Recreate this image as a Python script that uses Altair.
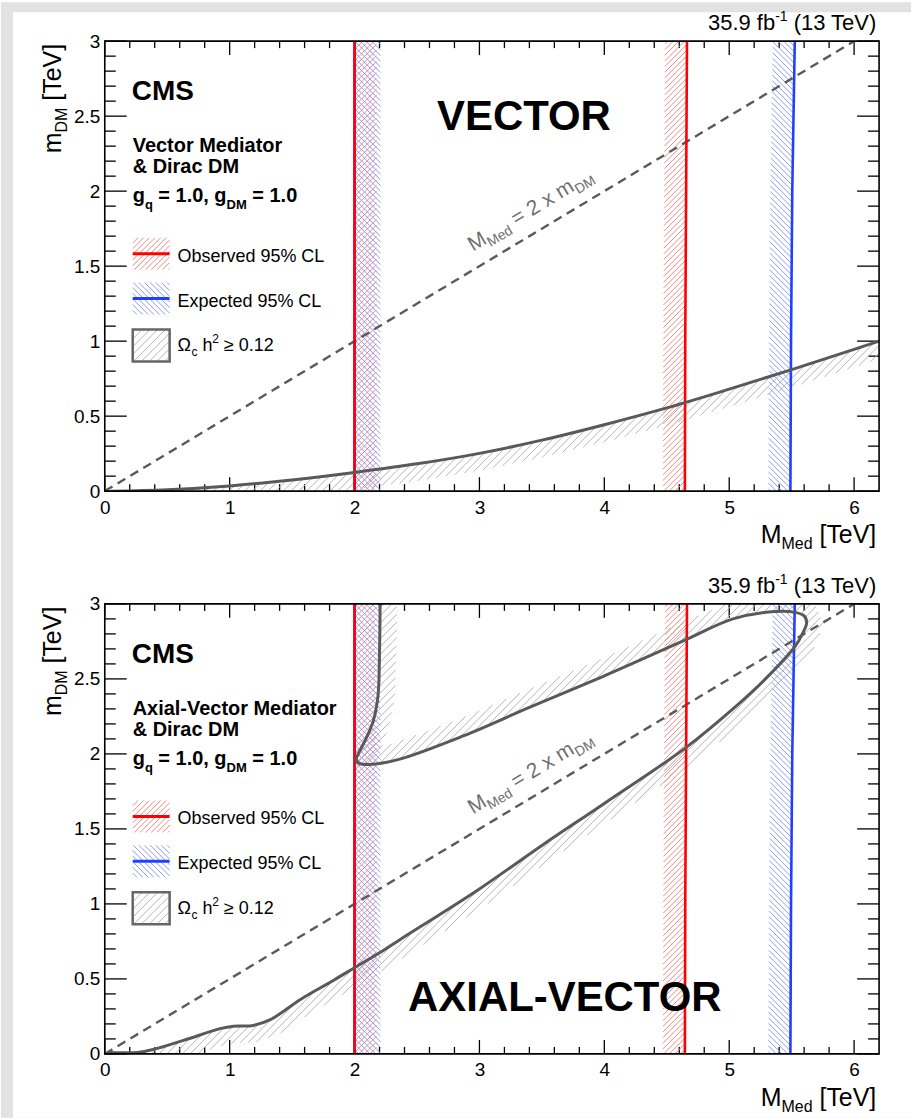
import math
import pandas as pd
import altair as alt

# ---------------- data (TeV) ----------------
# relic density curve, vector mediator
vec_omega_x = [0.05, 0.5, 1.0, 1.5, 2.0, 2.5, 3.0, 3.5, 4.0, 4.5, 5.0, 5.5, 6.0, 6.2]
vec_omega_y = [0.0, 0.01, 0.035, 0.075, 0.125, 0.182, 0.252, 0.34, 0.443, 0.555, 0.68, 0.81, 0.945, 1.0]
# relic density curve, axial-vector mediator (path order)
ax_omega_x = [2.205, 2.203, 2.200, 2.188, 2.150, 2.085, 2.030, 2.013, 2.040, 2.120, 2.34, 2.87, 3.40,
              4.00, 4.65, 5.03, 5.37, 5.52, 5.60, 5.62, 5.58, 5.53, 5.29, 5.03, 4.65, 4.00, 3.50,
              3.00, 2.36, 2.23, 1.99, 1.83, 1.57, 1.33, 1.19, 1.03, 0.93, 0.63, 0.39, 0.26, 0.02]
ax_omega_y = [3.05, 2.85, 2.69, 2.39, 2.22, 2.09, 2.00, 1.96, 1.935, 1.93, 1.96, 2.12, 2.31,
              2.52, 2.76, 2.90, 2.95, 2.945, 2.92, 2.875, 2.79, 2.72, 2.50, 2.30, 2.04, 1.67, 1.39,
              1.10, 0.76, 0.69, 0.57, 0.49, 0.365, 0.23, 0.19, 0.185, 0.17, 0.09, 0.03, 0.01, 0.01]
# exclusion contours
obs_left_x = [2.0, 2.0]
obs_left_y = [0.0, 3.0]
exp_left_x = [2.0, 2.0]
exp_left_y = [0.0, 3.0]
obs_right_x = [4.645, 4.648, 4.655, 4.662]
obs_right_y = [0.0, 1.0, 2.0, 3.0]
exp_right_x = [5.49, 5.495, 5.505, 5.525]
exp_right_y = [0.0, 1.0, 2.0, 3.0]
# M_Med = 2 m_DM
diag_x = [0.0, 6.2]
diag_y = [0.0, 3.1]

x_major = [0, 1, 2, 3, 4, 5, 6]
x_minor = [round(0.2 * i, 1) for i in range(1, 31) if i % 5 != 0]
y_major = [0, 0.5, 1.0, 1.5, 2.0, 2.5, 3.0]
y_minor = [round(0.1 * i, 1) for i in range(1, 30) if i % 5 != 0]

# ---------------- geometry / style ----------------
W, H = 776, 451
XMAX, YMAX = 6.2, 3.0
SX, SY = W / XMAX, H / YMAX
FONT = "Liberation Sans"
RED, BLUE, GRAY = "#ff0000", "#2040ff", "#595959"
RED_H, BLUE_H, GRAY_H = "#f08888", "#8d9af2", "#b5b5b5"

REG = {' ': 278, '!': 278, '%': 889, '&': 667, '(': 333, ')': 333, ',': 278, '-': 333, '.': 278,
       '=': 584, '[': 278, ']': 278, '\u2265': 549, '\u03a9': 768,
       'A': 667, 'C': 722, 'D': 722, 'E': 667, 'I': 278, 'L': 556, 'M': 833, 'O': 778, 'R': 722,
       'S': 667, 'T': 611, 'V': 667, 'X': 667,
       'a': 556, 'b': 556, 'c': 500, 'd': 556, 'e': 556, 'f': 278, 'g': 556, 'h': 556, 'i': 222,
       'l': 222, 'm': 833, 'n': 556, 'o': 556, 'p': 556, 'q': 556, 'r': 333, 's': 500, 't': 278,
       'u': 556, 'v': 500, 'x': 500, 'y': 500}
BOLD = {' ': 278, '&': 722, ',': 278, '-': 333, '.': 278, '=': 584, 'A': 722, 'C': 722, 'D': 722,
        'E': 667, 'I': 278, 'L': 611, 'M': 833, 'O': 778, 'R': 722, 'S': 667, 'T': 611, 'V': 667,
        'X': 667, 'a': 556, 'c': 556, 'd': 611, 'e': 556, 'g': 611, 'i': 278, 'l': 278, 'o': 611,
        'q': 611, 'r': 389, 't': 333, 'x': 556}


def tw(s, size, bold=False):
    tab = BOLD if bold else REG
    return sum(tab.get(ch, 556) for ch in s) / 1000.0 * size


def one():
    return pd.DataFrame({"k": [0]})


def txt(text, x, y, size, bold=False, color="black", angle=0, dx=0.0, dy=0.0):
    kw = dict(text=text, fontSize=size, font=FONT, fontWeight="bold" if bold else "normal",
              color=color, align="left", baseline="alphabetic")
    if angle:
        kw["angle"] = angle
    if dx:
        kw["dx"] = round(dx, 2)
    if dy:
        kw["dy"] = round(dy, 2)
    return alt.Chart(one()).mark_text(**kw).encode(x=alt.value(x), y=alt.value(y))


def rich(pieces, x, y, align="left", angle=0, color="black"):
    items, cum = [], 0.0
    for t, s, b, dy in pieces:
        lead = len(t) - len(t.lstrip(' '))
        items.append((t.strip(' '), s, b, dy, cum + tw(' ' * lead, s, b)))
        cum += tw(t, s, b)
    shift = -cum if align == "right" else 0.0
    return [txt(t, x, y, s, b, color, angle, st + shift, dy) for t, s, b, dy, st in items]


def rect(x0, x1, y0, y1, **kw):
    return alt.Chart(one()).mark_rect(**kw).encode(
        x=alt.value(x0), x2=alt.value(x1), y=alt.value(y0), y2=alt.value(y1))


def to_px(xs, ys):
    return [(a * SX, b * SY) for a, b in zip(xs, ys)]


def band(points, side, w):
    n = len(points)
    off = []
    for i in range(n):
        a = points[max(i - 1, 0)]
        b = points[min(i + 1, n - 1)]
        tx, ty = b[0] - a[0], b[1] - a[1]
        L = math.hypot(tx, ty) or 1.0
        tx, ty = tx / L, ty / L
        off.append((points[i][0] - side * w * ty, points[i][1] + side * w * tx))
    return list(points) + off[::-1]


def hatch_polygon(poly, ang, sp):
    th = math.radians(ang)
    dx_, dy_ = math.cos(th), math.sin(th)
    nx, ny = -dy_, dx_
    proj = [nx * p[0] + ny * p[1] for p in poly]
    k0 = math.ceil(min(proj) / sp)
    k1 = math.floor(max(proj) / sp)
    N = len(poly)
    segs = []
    for k in range(k0, k1 + 1):
        c = k * sp
        cr = []
        for i in range(N):
            j = (i + 1) % N
            fa, fb = proj[i] - c, proj[j] - c
            if (fa < 0) != (fb < 0):
                t = fa / (fa - fb)
                px = poly[i][0] + t * (poly[j][0] - poly[i][0])
                py = poly[i][1] + t * (poly[j][1] - poly[i][1])
                cr.append((dx_ * px + dy_ * py, 1 if fb > fa else -1))
        cr.sort()
        wnd, start = 0, None
        for s, d in cr:
            prev = wnd
            wnd += d
            if prev == 0 and wnd != 0:
                start = s
            elif prev != 0 and wnd == 0:
                segs.append((c * nx + start * dx_, c * ny + start * dy_,
                             c * nx + s * dx_, c * ny + s * dy_))
    return segs


xscale = alt.Scale(domain=[0, XMAX], nice=False, zero=False)
yscale = alt.Scale(domain=[0, YMAX], nice=False, zero=False)
xaxis = alt.Axis(values=x_major, format="d", labelFontSize=19, labelFont=FONT, labelColor="black",
                 labelPadding=7, ticks=False, domain=False, grid=False, title=None,
                 labelOverlap=False, labelFlush=False, zindex=1)
yaxis = alt.Axis(values=y_major, format=".1~f", labelFontSize=19, labelFont=FONT, labelColor="black",
                 labelPadding=5, ticks=False, domain=False, grid=False, title=None,
                 labelOverlap=False, labelFlush=False, zindex=1)


def X(f):
    return alt.X(f"{f}:Q", scale=xscale, axis=xaxis)


def Y(f):
    return alt.Y(f"{f}:Q", scale=yscale, axis=yaxis)


def line_df(xs, ys):
    return pd.DataFrame({"x": xs, "y": ys, "o": list(range(len(xs)))})


def panel(kind):
    vector = kind == "vector"
    omx, omy = (vec_omega_x, vec_omega_y) if vector else (ax_omega_x, ax_omega_y)
    rows = []

    def add(poly, ang, sp, col):
        for s in hatch_polygon(poly, ang, sp):
            rows.append({"x": s[0] / SX, "y": s[1] / SY, "x2": s[2] / SX, "y2": s[3] / SY, "c": col})

    def box(x0, x1, yt, yb):
        return [(x0, H - yb), (x1, H - yb), (x1, H - yt), (x0, H - yt)]

    add(band(to_px(omx, omy), -1 if vector else 1, 17), 45, 5.5, GRAY_H)
    add(band(to_px(obs_left_x, obs_left_y), -1, 22), 45, 4.0, RED_H)
    add(band(to_px(exp_left_x, exp_left_y), -1, 26), 135, 4.0, BLUE_H)
    add(band(to_px(obs_right_x, obs_right_y), 1, 22), 45, 4.0, RED_H)
    add(band(to_px(exp_right_x, exp_right_y), 1, 22), 135, 4.0, BLUE_H)
    add(box(28, 65, 197, 229), 45, 4.0, RED_H)
    add(box(28, 65, 242, 274), 135, 4.0, BLUE_H)
    add(box(28, 65, 289, 321), 45, 5.5, GRAY_H)
    hdf = pd.DataFrame(rows)

    layers = []
    if vector:
        layers.append(rect(-104, W + 32, -39, 525, fill="#e2e2e2"))
        layers.append(rect(-92, W + 32, -29, 525, fill="white"))
    else:
        layers.append(rect(-104, W + 32, -39, 515, fill="#e2e2e2"))
        layers.append(rect(-92, W + 32, -40, 515, fill="white"))

    # inward ROOT-style ticks (drawn below the contours)
    def tk(vals, side, length):
        d = pd.DataFrame({"v": vals})
        m = alt.Chart(d).mark_rule(color="black", strokeWidth=1.3)
        if side == "bottom":
            return m.encode(x=X("v"), y=alt.value(H), y2=alt.value(H - length))
        if side == "top":
            return m.encode(x=X("v"), y=alt.value(0), y2=alt.value(length))
        if side == "left":
            return m.encode(y=Y("v"), x=alt.value(0), x2=alt.value(length))
        return m.encode(y=Y("v"), x=alt.value(W), x2=alt.value(W - length))

    layers += [tk(x_major, "bottom", 14), tk(x_minor, "bottom", 7),
               tk(x_major, "top", 14), tk(x_minor, "top", 7),
               tk(y_major, "left", 22), tk(y_minor, "left", 11),
               tk(y_major, "right", 22), tk(y_minor, "right", 11)]

    layers.append(alt.Chart(hdf).mark_rule(strokeWidth=1, clip=True).encode(
        x=X("x"), y=Y("y"), x2="x2", y2="y2", color=alt.Color("c:N", scale=None)))

    layers.append(alt.Chart(line_df(diag_x, diag_y)).mark_line(
        color="#5a5a5a", strokeWidth=2.4, strokeDash=[9, 6], clip=True).encode(x=X("x"), y=Y("y")))

    blue_df = pd.concat([line_df(exp_left_x, exp_left_y).assign(id="l"),
                         line_df(exp_right_x, exp_right_y).assign(id="r")])
    red_df = pd.concat([line_df(obs_left_x, obs_left_y).assign(id="l"),
                        line_df(obs_right_x, obs_right_y).assign(id="r")])
    layers.append(alt.Chart(blue_df).mark_line(color=BLUE, strokeWidth=2.6, clip=True).encode(
        x=X("x"), y=Y("y"), detail="id:N", order="o:Q"))
    layers.append(alt.Chart(red_df).mark_line(color=RED, strokeWidth=2.6, clip=True).encode(
        x=X("x"), y=Y("y"), detail="id:N", order="o:Q"))

    layers.append(alt.Chart(line_df(omx, omy)).mark_line(
        color=GRAY, strokeWidth=3, clip=True,
        interpolate="monotone" if vector else "catmull-rom").encode(x=X("x"), y=Y("y"), order="o:Q"))

    layers.append(rect(0, W, 0, H, fillOpacity=0, stroke="black", strokeWidth=1.6))

    # legend symbols
    layers.append(alt.Chart(one()).mark_rule(color=RED, strokeWidth=3).encode(
        x=alt.value(28), x2=alt.value(65), y=alt.value(213)))
    layers.append(alt.Chart(one()).mark_rule(color=BLUE, strokeWidth=3).encode(
        x=alt.value(28), x2=alt.value(65), y=alt.value(258)))
    layers.append(rect(28, 65, 289, 321, fillOpacity=0, stroke="#666666", strokeWidth=2.5))

    # texts
    layers.append(txt("CMS", 27, 59, 28, True))
    layers.append(txt("Vector Mediator" if vector else "Axial-Vector Mediator", 28, 111.5, 20, True))
    layers.append(txt("& Dirac DM", 28, 132.5, 20, True))
    layers += rich([("g", 20, True, 0), ("q", 13, True, 7), (" = 1.0, g", 20, True, 0),
                    ("DM", 13, True, 7), (" = 1.0", 20, True, 0)], 28, 161)
    layers.append(txt("Observed 95% CL", 73, 221, 18))
    layers.append(txt("Expected 95% CL", 73, 266, 18))
    layers += rich([("\u03a9", 18, False, 0), ("c", 12, False, 5), (" h", 18, False, 0),
                    ("2", 12, False, -8), (" \u2265 0.12", 18, False, 0)], 73, 311)
    if vector:
        layers.append(txt("VECTOR", 333, 89, 42, True))
    else:
        layers.append(txt("AXIAL-VECTOR", 304, 408, 42, True))
    layers += rich([("M", 21, False, 0), ("Med", 14, False, 5), (" = 2 x m", 21, False, 0),
                    ("DM", 14, False, 5)], 369, 211, angle=329, color="#707070")
    layers += rich([("35.9 fb", 22, False, 0), ("-1", 14, False, -9), (" (13 TeV)", 22, False, 0)],
                   W, -11, align="right")
    layers += rich([("M", 25, False, 0), ("Med", 16, False, 6), (" [TeV]", 25, False, 0)],
                   W, H + 52, align="right")
    layers += rich([("m", 25, False, 0), ("DM", 16, False, 6), (" [TeV]", 25, False, 0)],
                   -44, 0, align="right", angle=270)

    return alt.layer(*layers).properties(width=W, height=H)


top = panel("vector")
bottom = panel("axial")

chart = alt.vconcat(top, bottom, spacing=113, bounds="flush").properties(
    padding=0, background="white"
).configure_view(stroke="transparent")

chart.save("out.html", embed_options={"renderer": "svg", "actions": False})
